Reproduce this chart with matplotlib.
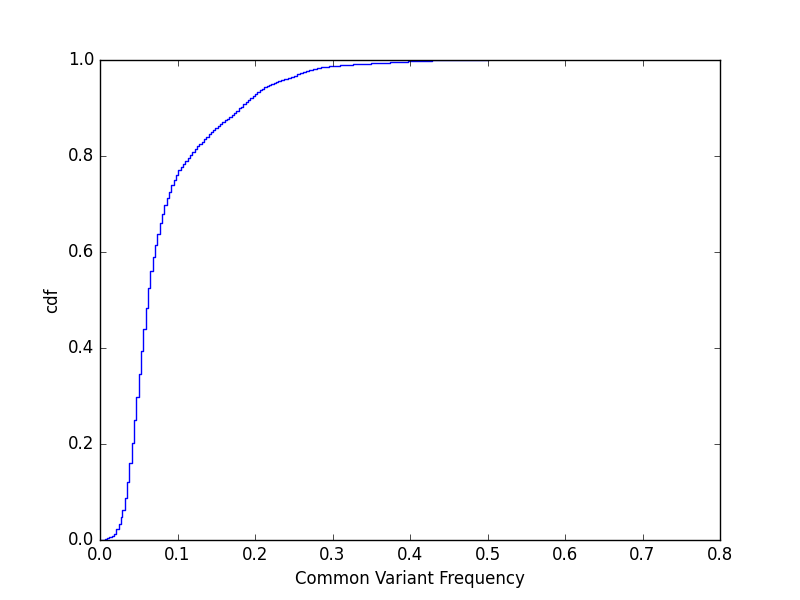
import matplotlib
matplotlib.use("Agg")
import matplotlib.pyplot as plt

# step positions (variant frequency) and cumulative fraction after each step
freq = [0.000, 0.003, 0.006, 0.009, 0.012, 0.015, 0.018, 0.021, 0.024, 0.027,
        0.029, 0.032, 0.035, 0.038, 0.041, 0.044, 0.047, 0.050, 0.053, 0.056,
        0.059, 0.062, 0.065, 0.068, 0.071, 0.074, 0.077, 0.080, 0.083, 0.086,
        0.089, 0.092, 0.095, 0.098, 0.101, 0.104, 0.107, 0.110, 0.113, 0.116,
        0.119, 0.122, 0.125, 0.128, 0.131, 0.134, 0.137, 0.140, 0.143, 0.146,
        0.149, 0.152, 0.155, 0.158, 0.161, 0.164, 0.167, 0.170, 0.173, 0.176,
        0.179, 0.182, 0.185, 0.188, 0.191, 0.194, 0.197, 0.200, 0.203, 0.206,
        0.209, 0.212, 0.215, 0.218, 0.221, 0.224, 0.227, 0.230, 0.234, 0.238,
        0.242, 0.246, 0.250, 0.254, 0.258, 0.262, 0.266, 0.270, 0.275, 0.280,
        0.285, 0.290, 0.295, 0.300, 0.305, 0.310, 0.315, 0.320, 0.326, 0.332,
        0.338, 0.344, 0.350, 0.356, 0.362, 0.368, 0.374, 0.380, 0.386, 0.392,
        0.398, 0.405, 0.412, 0.420, 0.428, 0.436, 0.445, 0.455, 0.500]
cdf = [0.000, 0.001, 0.002, 0.004, 0.006, 0.009, 0.013, 0.022, 0.033, 0.047,
       0.062, 0.088, 0.120, 0.160, 0.202, 0.250, 0.297, 0.346, 0.394, 0.440,
       0.484, 0.524, 0.560, 0.590, 0.615, 0.638, 0.660, 0.680, 0.697, 0.712,
       0.726, 0.739, 0.751, 0.761, 0.770, 0.777, 0.784, 0.790, 0.796, 0.802,
       0.808, 0.814, 0.820, 0.825, 0.830, 0.835, 0.840, 0.845, 0.849, 0.854,
       0.858, 0.862, 0.866, 0.870, 0.874, 0.878, 0.882, 0.886, 0.890, 0.894,
       0.899, 0.903, 0.908, 0.912, 0.916, 0.921, 0.925, 0.929, 0.933, 0.937,
       0.940, 0.943, 0.946, 0.948, 0.950, 0.952, 0.954, 0.956, 0.958, 0.961,
       0.963, 0.965, 0.967, 0.970, 0.972, 0.975, 0.977, 0.979, 0.981, 0.983,
       0.985, 0.986, 0.987, 0.988, 0.9885, 0.989, 0.9895, 0.990, 0.991, 0.9915,
       0.992, 0.9925, 0.993, 0.9935, 0.994, 0.9945, 0.995, 0.9955, 0.996, 0.9965,
       0.997, 0.9975, 0.998, 0.9985, 0.999, 0.9993, 0.9996, 1.000, 1.000]

plt.style.use("classic")

fig = plt.figure(figsize=(8, 6), dpi=100, facecolor="white")
ax = fig.add_axes([0.125, 0.1, 0.775, 0.8])
ax.step(freq, cdf, where="post", color="b", linewidth=1)
ax.set_xlim(0, 0.8)
ax.set_ylim(0, 1.0)
ax.set_xlabel("Common Variant Frequency")
ax.set_ylabel("cdf")

fig.savefig("out.png", dpi=100, facecolor="white")
